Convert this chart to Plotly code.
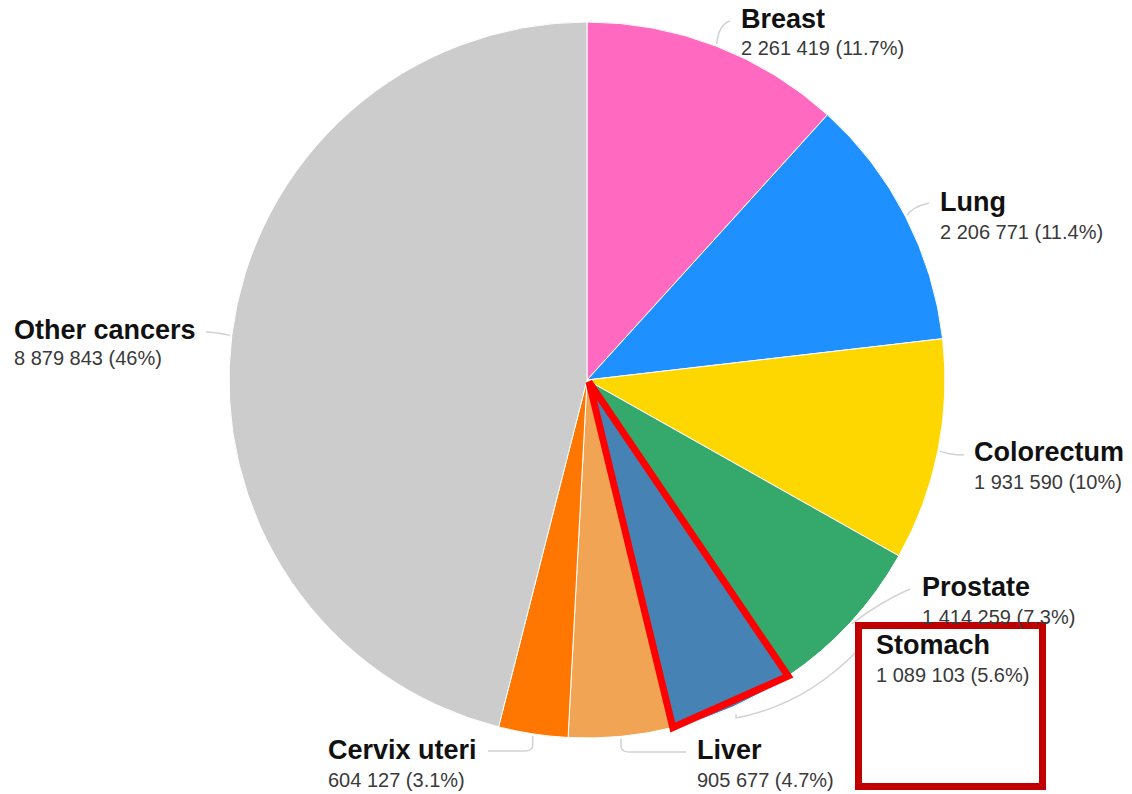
import math
import plotly.graph_objects as go

# ---- data ----
categories = ["Breast", "Lung", "Colorectum", "Prostate", "Stomach", "Liver", "Cervix uteri", "Other cancers"]
values = [2261419, 2206771, 1931590, 1414259, 1089103, 905677, 604127, 8879843]
value_labels = ["2 261 419 (11.7%)", "2 206 771 (11.4%)", "1 931 590 (10%)", "1 414 259 (7.3%)",
                "1 089 103 (5.6%)", "905 677 (4.7%)", "604 127 (3.1%)", "8 879 843 (46%)"]
colors = ["#FF69BF", "#1E90FF", "#FFD700", "#35A86B", "#4682B4", "#F2A455", "#FF7700", "#CCCCCC"]

# ---- layout constants (pixels) ----
W, H = 1132, 794
CX, CY, R = 587, 380, 358

def px(x):
    return x / W

def py(y):
    return 1 - y / H

fig = go.Figure()
fig.add_trace(go.Pie(
    labels=categories, values=values, sort=False, direction="clockwise", rotation=0,
    marker=dict(colors=colors, line=dict(color="#FFFFFF", width=1)),
    textinfo="none", hoverinfo="label+value+percent",
    domain=dict(x=[px(CX - R), px(CX + R)], y=[py(CY + R), py(CY - R)]),
))

total = sum(values)
cum = [0]
for v in values:
    cum.append(cum[-1] + v)

def point(frac, r):
    a = 2 * math.pi * frac
    return CX + r * math.sin(a), CY - r * math.cos(a)

def P(x, y):
    return f"{px(x):.5f},{py(y):.5f}"

# label positions (left x, name-line y, value-line y)
label_pos = {
    "Breast": (741, 19, 48),
    "Lung": (940, 202, 232),
    "Colorectum": (974, 452, 482),
    "Prostate": (922, 587, 617),
    "Stomach": (876, 645, 675),
    "Liver": (697, 750, 780),
    "Cervix uteri": (328, 750, 780),
    "Other cancers": (14, 330, 358),
}

shapes = []
conn = dict(color="#D2D2D2", width=1.5)

def mid(i, r=R + 2):
    return point((cum[i] + cum[i + 1]) / 2 / total, r)

def add(path):
    shapes.append(dict(type="path", path=path, line=conn, xref="paper", yref="paper"))

sx, sy = mid(0)
add(f"M {P(sx, sy)} Q {P(719, 24)} {P(730, 21)}")
sx, sy = mid(1)
add(f"M {P(sx, sy)} Q {P(912, 207)} {P(929, 203)}")
sx, sy = mid(2)
add(f"M {P(sx, sy)} Q {P(950, 455)} {P(964, 455)}")
sx, sy = mid(3)
add(f"M {P(sx, sy)} Q {P(880, 602)} {P(910, 589)}")
sx, sy = mid(4, R + 8)
add(f"M {P(sx, sy)} L {P(736, 718)} Q {P(805, 705)} {P(858, 650)}")
sx, sy = mid(5)
add(f"M {P(sx, sy)} L {P(sx, 746)} Q {P(sx, 752)} {P(sx + 8, 752)} L {P(686, 752)}")
sx, sy = mid(6)
add(f"M {P(sx, sy)} L {P(sx, 745)} Q {P(sx, 751)} {P(sx - 8, 751)} L {P(488, 751)}")
sx, sy = mid(7)
add(f"M {P(sx, sy)} Q {P(220, 333)} {P(206, 332)}")

# red outline around the Stomach slice
a0 = point(cum[4] / total, R)
a1 = point(cum[5] / total, R)
shapes.append(dict(type="path", path=f"M {P(CX + 2, CY + 2)} L {P(*a0)} L {P(*a1)} Z",
                   line=dict(color="#FF0000", width=7), xref="paper", yref="paper"))

# dark red box around the Stomach label
shapes.append(dict(type="rect", x0=px(858.5), x1=px(1042.5), y0=py(786.5), y1=py(625.5),
                   line=dict(color="#C00000", width=7), xref="paper", yref="paper"))

FONT = "Liberation Sans, Arial, sans-serif"
annotations = []
for name, val in zip(categories, value_labels):
    x, yn, yv = label_pos[name]
    annotations.append(dict(x=px(x - 2), y=py(yn), xref="paper", yref="paper", xanchor="left", yanchor="middle",
                            text=f"<b>{name}</b>", showarrow=False,
                            font=dict(family=FONT, size=27, color="#111111")))
    annotations.append(dict(x=px(x - 2), y=py(yv), xref="paper", yref="paper", xanchor="left", yanchor="middle",
                            text=val, showarrow=False,
                            font=dict(family=FONT, size=20, color="#3a3a3a")))

fig.update_layout(
    width=W, height=H, margin=dict(l=0, r=0, t=0, b=0),
    paper_bgcolor="white", plot_bgcolor="white", showlegend=False,
    shapes=shapes, annotations=annotations,
)

fig.write_html("out.html", config={"displayModeBar": False},
               post_script="document.body.style.margin='0';document.body.style.overflow='hidden';")
